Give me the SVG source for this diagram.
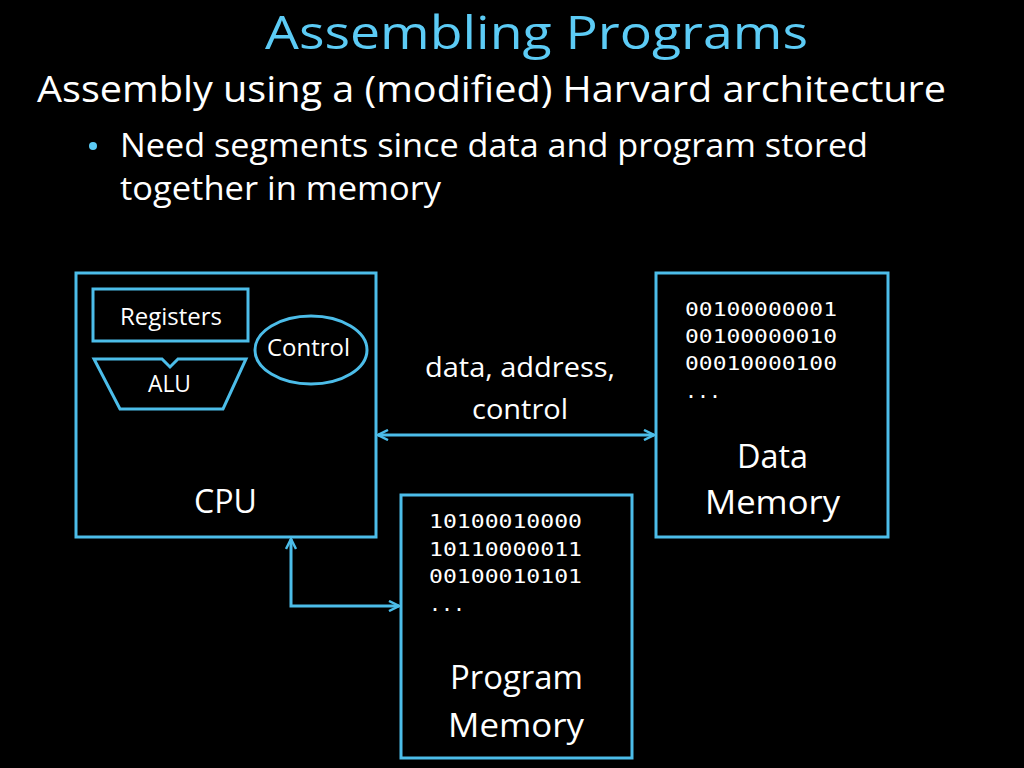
<svg xmlns="http://www.w3.org/2000/svg" width="1024" height="768" viewBox="0 0 1024 768">
<style>
.bg{fill:#000}
.box{fill:none;stroke:#4cbde9;stroke-width:3}
.t{font-family:"Open Sans","Noto Sans","Liberation Sans",sans-serif;fill:#fff}
.m{font-family:"DejaVu Sans Mono","Liberation Mono",monospace;fill:#fff;font-size:20px}
.c{fill:none;stroke:#4cbde9;stroke-width:3}
</style>
<defs>
<marker id="ah" viewBox="0 0 12 12" refX="11" refY="6" markerWidth="12" markerHeight="12" markerUnits="userSpaceOnUse" orient="auto-start-reverse">
<path d="M1,1 L11,6 L1,11" fill="none" stroke="#4cbde9" stroke-width="2.5"/>
</marker>
</defs>
<rect class="bg" x="0" y="0" width="1024" height="768"/>
<g id="header">
<text class="t" x="265" y="49" font-size="46" font-weight="500" style="fill:#5ccbf5" textLength="543" lengthAdjust="spacingAndGlyphs">Assembling Programs</text>
<text class="t" x="37" y="102" font-size="37" textLength="909" lengthAdjust="spacingAndGlyphs">Assembly using a (modified) Harvard architecture</text>
<circle cx="93" cy="146" r="4" fill="#5ccbf5"/>
<text class="t" x="120" y="157" font-size="32" textLength="748" lengthAdjust="spacingAndGlyphs">Need segments since data and program stored</text>
<text class="t" x="120" y="200" font-size="32" textLength="321" lengthAdjust="spacingAndGlyphs">together in memory</text>
</g>
<g id="cpu">
<rect class="box" x="76" y="273" width="300" height="264"/>
<text class="t" x="194" y="513" font-size="32" textLength="63" lengthAdjust="spacingAndGlyphs">CPU</text>
</g>
<g id="registers">
<rect class="box" x="93" y="289" width="155" height="52"/>
<text class="t" x="120" y="325" font-size="23" textLength="102" lengthAdjust="spacingAndGlyphs">Registers</text>
</g>
<g id="alu">
<path class="box" d="M94,359 L162,359 L170,367 L178,359 L246,359 L223,409 L120,409 Z"/>
<text class="t" x="148" y="392" font-size="23" textLength="43" lengthAdjust="spacingAndGlyphs">ALU</text>
</g>
<g id="control">
<ellipse class="box" cx="311" cy="350" rx="56" ry="34"/>
<text class="t" x="267" y="356" font-size="23" textLength="83" lengthAdjust="spacingAndGlyphs">Control</text>
</g>
<g id="data-memory">
<rect class="box" x="656" y="273" width="232" height="264"/>
<text class="m" x="685" y="316" textLength="152" lengthAdjust="spacingAndGlyphs">00100000001</text>
<text class="m" x="685" y="343" textLength="152" lengthAdjust="spacingAndGlyphs">00100000010</text>
<text class="m" x="685" y="370" textLength="152" lengthAdjust="spacingAndGlyphs">00010000100</text>
<text class="m" x="685" y="398" textLength="36" lengthAdjust="spacingAndGlyphs">...</text>
<text class="t" x="737" y="468" font-size="32" textLength="71" lengthAdjust="spacingAndGlyphs">Data</text>
<text class="t" x="705" y="514" font-size="32" textLength="135" lengthAdjust="spacingAndGlyphs">Memory</text>
</g>
<g id="program-memory">
<rect class="box" x="401" y="495" width="231" height="263"/>
<text class="m" x="429" y="528" textLength="153" lengthAdjust="spacingAndGlyphs">10100010000</text>
<text class="m" x="429" y="556" textLength="153" lengthAdjust="spacingAndGlyphs">10110000011</text>
<text class="m" x="429" y="583" textLength="153" lengthAdjust="spacingAndGlyphs">00100010101</text>
<text class="m" x="429" y="611" textLength="36" lengthAdjust="spacingAndGlyphs">...</text>
<text class="t" x="450" y="689" font-size="32" textLength="133" lengthAdjust="spacingAndGlyphs">Program</text>
<text class="t" x="448" y="737" font-size="32" textLength="136" lengthAdjust="spacingAndGlyphs">Memory</text>
</g>
<g id="connectors">
<line class="c" x1="378" y1="435" x2="654" y2="435" marker-start="url(#ah)" marker-end="url(#ah)"/>
<polyline class="c" points="291,539 291,606 399,606" marker-start="url(#ah)" marker-end="url(#ah)"/>
<text class="t" x="425" y="377" font-size="27" textLength="190" lengthAdjust="spacingAndGlyphs">data, address,</text>
<text class="t" x="472" y="419" font-size="27" textLength="96" lengthAdjust="spacingAndGlyphs">control</text>
</g>
</svg>
